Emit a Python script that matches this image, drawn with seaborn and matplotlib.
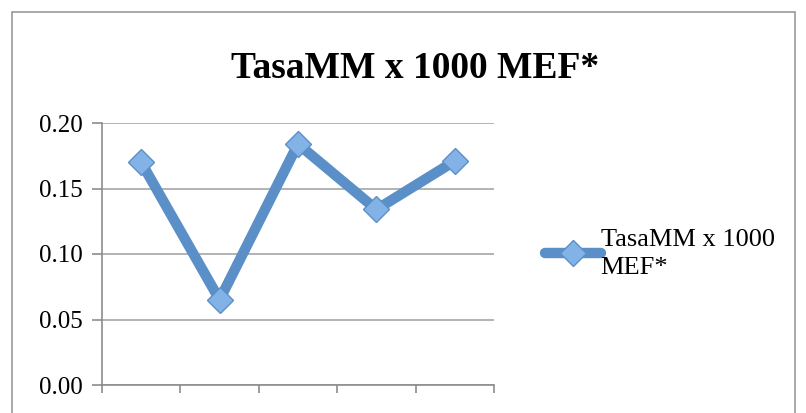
import pandas as pd
import seaborn as sns
import matplotlib.pyplot as plt
from matplotlib.patches import Rectangle

categorias = [1, 2, 3, 4, 5]
tasa = [0.170, 0.065, 0.184, 0.134, 0.171]
serie = "TasaMM x 1000 MEF*"
yticks = [0.00, 0.05, 0.10, 0.15, 0.20]

df = pd.DataFrame({"pos": range(len(categorias)), "tasa": tasa})

sns.set_style("white")
plt.rcParams['font.family'] = ['Liberation Serif', 'DejaVu Serif']
plt.rcParams['text.color'] = 'black'

fig = plt.figure(figsize=(8.06, 4.13), dpi=100)
ax = fig.add_axes([102/806, 28/413, 392/806, 262/413])

# marco del grafico
fig.patches.append(Rectangle((12/806, -0.1), 783/806, 1.1 - 12/413,
                             transform=fig.transFigure, fill=False,
                             edgecolor='#9a9a9a', linewidth=1.2))

sns.lineplot(data=df, x="pos", y="tasa", ax=ax, color='#5a8fc8', linewidth=7.5,
             marker='D', markersize=13, markerfacecolor='#82b2e6',
             markeredgecolor='#5a8fc8', markeredgewidth=1, label=serie)

ax.set_xlim(-0.5, len(categorias) - 0.5)
ax.set_ylim(0, 0.2)
ax.set_yticks(yticks)
ax.set_yticklabels([f"{v:.2f}" for v in yticks], fontsize=18, color='black')
ax.set_xticks([i - 0.5 for i in range(len(categorias) + 1)])
ax.set_xticklabels([])
ax.tick_params(axis='x', direction='out', length=6, width=1.2, color='#8c8c8c', bottom=True)
ax.tick_params(axis='y', direction='out', length=7, width=1.2, color='#8c8c8c', left=True, pad=7)
ax.grid(axis='y', color='#a6a6a6', linewidth=1.2)
ax.set_axisbelow(True)
for s in ['top', 'right']:
    ax.spines[s].set_visible(False)
for s in ['left', 'bottom']:
    ax.spines[s].set_color('#8c8c8c')
    ax.spines[s].set_linewidth(1.2)
ax.set_xlabel("")
ax.set_ylabel("")

fig.text(415/806, 1 - 68/413, serie, ha='center', va='center', fontsize=27,
         fontweight='bold', color='black')

leg = ax.legend(labels=["TasaMM x 1000\nMEF*"], loc='center left', bbox_to_anchor=(1.07, 0.5),
                frameon=False, fontsize=19, handlelength=2.1, handletextpad=0.0)
for t in leg.get_texts():
    t.set_linespacing(1.4)

fig.savefig("out.png", dpi=100)
